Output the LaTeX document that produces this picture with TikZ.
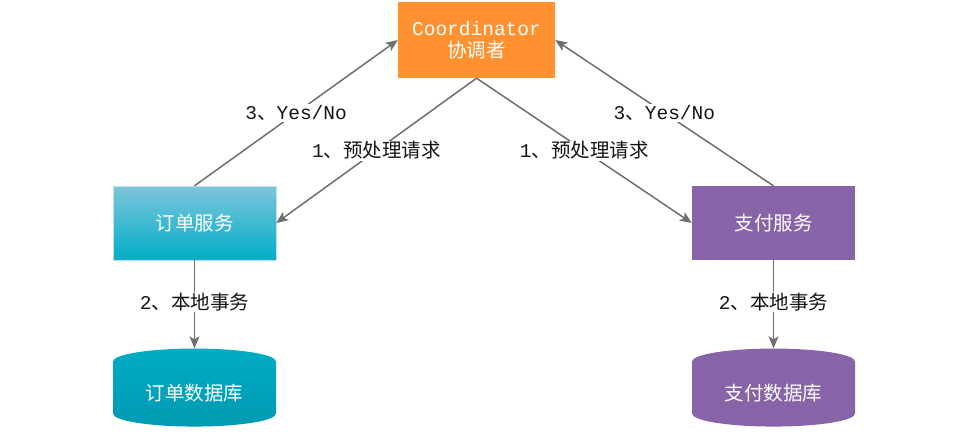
\documentclass[tikz,border=0pt]{standalone}
\usepackage{fontspec}
\setmainfont{Liberation Mono}
\newfontfamily\cjk{Noto Sans CJK SC}
\usetikzlibrary{arrows.meta,shapes.geometric}
\definecolor{coordcolor}{HTML}{FF9130}
\definecolor{ordertop}{HTML}{7EC5DA}
\definecolor{orderbot}{HTML}{00AEC9}
\definecolor{dbtop}{HTML}{00ACC5}
\definecolor{dbbot}{HTML}{0099B3}
\definecolor{paycolor}{HTML}{8763A8}
\colorlet{arrowcolor}{black!57}
\colorlet{labelcolor}{black!92}
\tikzstyle{coordbox} = [
    rectangle,
    fill=coordcolor,
    text=white,
    minimum width=157pt,
    minimum height=76pt,
    align=center,
    font=\fontsize{19.5}{22}\selectfont
    ]
\tikzstyle{svcbox} = [
    rectangle,
    text=white,
    minimum width=163pt,
    minimum height=74pt,
    font=\cjk\fontsize{19.5}{22}\selectfont
    ]
\tikzstyle{dbbox} = [
    cylinder,
    shape border rotate=90,
    aspect=0.25,
    text=white,
    minimum width=163pt,
    minimum height=78pt,
    font=\cjk\fontsize{19.5}{22}\selectfont
    ]
\tikzstyle{flow} = [
    draw=arrowcolor,
    line width=1.5pt,
    -{Stealth[length=12pt,width=10pt,inset=3pt]}
    ]
\tikzstyle{flowlabel} = [
    fill=white,
    text=labelcolor,
    inner sep=1pt,
    font=\fontsize{19.5}{22}\selectfont
    ]

\begin{document}
\begin{tikzpicture}[x=1pt,y=-1pt]
\useasboundingbox (0,0) rectangle (974,432);

\node [coordbox] (coord) at (476.5,40) {Coordinator\\{\cjk 协调者}};
\node [svcbox, top color=ordertop, bottom color=orderbot, draw=ordertop!50!white] (ordersvc) at (194.5,223) {订单服务};
\node [svcbox, fill=paycolor] (paysvc) at (773.5,223) {支付服务};
\node [dbbox, top color=dbtop, bottom color=dbbot] (orderdb) at (194.5,396) {\raisebox{7pt}{订单数据库}};
\node [dbbox, fill=paycolor] (paydb) at (773.5,396) {\raisebox{7pt}{支付数据库}};

% prepare / vote
\draw [flow] (ordersvc.north) -- node[flowlabel] {3{\cjk 、}Yes/No} (coord.west);
\draw [flow] (coord.south) -- node[flowlabel] {1{\cjk 、预处理请求}} (ordersvc.east);
\draw [flow] (coord.south) -- node[flowlabel] {1{\cjk 、预处理请求}} (paysvc.west);
\draw [flow] (paysvc.north) -- node[flowlabel] {3{\cjk 、}Yes/No} (coord.east);

% local transactions
\draw [flow] (ordersvc.south) -- node[flowlabel, pos=0.47] {2{\cjk 、本地事务}} (orderdb.north);
\draw [flow] (paysvc.south) -- node[flowlabel, pos=0.47] {2{\cjk 、本地事务}} (paydb.north);
\end{tikzpicture}
\end{document}
